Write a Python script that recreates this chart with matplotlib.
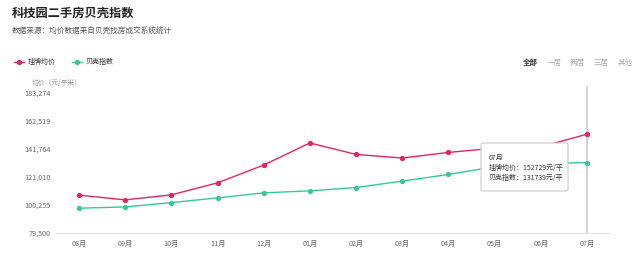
import matplotlib
matplotlib.use("Agg")
import matplotlib.pyplot as plt
from matplotlib.patches import FancyBboxPatch
from matplotlib.lines import Line2D

plt.rcParams['font.family'] = ['Noto Sans CJK SC', 'DejaVu Sans']

months = ["08月", "09月", "10月", "11月", "12月", "01月", "02月", "03月", "04月", "05月", "06月", "07月"]
listing_price = [107550, 104050, 107770, 116700, 129870, 146240, 137750, 135080, 139240, 142400, 143300, 152729]
beike_index = [97880, 98840, 102040, 105540, 109260, 110750, 113200, 117960, 122880, 128600, 130760, 131739]
y_ticks = [79500, 100255, 121010, 141764, 162519, 183274]
series_names = ["挂牌均价", "贝壳指数"]
tabs = ["全部", "一居", "两居", "三居", "其他"]

RED = '#e2265f'
GREEN = '#34c996'
W, H = 640, 263

fig = plt.figure(figsize=(6.4, 2.63), dpi=100)
fig.patch.set_facecolor('white')

def fx(px):
    return px / W

def fy(py):
    return 1 - py / H

ax = fig.add_axes([fx(56), fy(233), fx(610) - fx(56), fy(93) - fy(233)])
x = list(range(len(months)))
ax.plot(x, listing_price, color=RED, lw=1.0, marker='o', ms=2.8, zorder=3)
ax.plot(x, beike_index, color=GREEN, lw=1.0, marker='o', ms=2.8, zorder=3)
ax.set_xlim(-0.5, len(months) - 0.5)
ax.set_ylim(y_ticks[0], y_ticks[-1])
ax.set_yticks(y_ticks)
ax.set_yticklabels([f"{v:,}" for v in y_ticks], fontsize=5.2, color='#666666')
ax.set_xticks(x)
ax.set_xticklabels(months, fontsize=5.2, color='#666666')
ax.tick_params(axis='both', length=0, pad=5)
ax.tick_params(axis='y', pad=4)
for s in ['top', 'right', 'left']:
    ax.spines[s].set_visible(False)
ax.spines['bottom'].set_color('#e6e6e6')
ax.spines['bottom'].set_linewidth(0.8)

# axis pointer line at last month
ax.axvline(len(months) - 1, ymin=0, ymax=1.04, color='#cfcfcf', lw=1.3, zorder=1, clip_on=False)

# title & subtitle
fig.text(fx(12), fy(13), "科技园二手房贝壳指数", fontsize=8.8, fontweight='bold', color='#222222', va='center', ha='left')
fig.text(fx(12), fy(32), "数据来源：均价数据来自贝壳找房成交系统统计", fontsize=5.5, color='#555555', va='center', ha='left')

# legend
for (x0, color, name) in [(14, RED, series_names[0]), (72, GREEN, series_names[1])]:
    fig.add_artist(Line2D([fx(x0), fx(x0 + 10)], [fy(62), fy(62)], color=color, lw=1.0,
                          marker=None, transform=fig.transFigure))
    fig.add_artist(Line2D([fx(x0 + 5)], [fy(62)], color=color, marker='o', ms=2.8,
                          transform=fig.transFigure))
    fig.text(fx(x0 + 14), fy(62), name, fontsize=5.0, color='#333333', va='center', ha='left')

# tabs
tab_x = [523, 547, 570, 594, 618]
for i, (t, tx) in enumerate(zip(tabs, tab_x)):
    fig.text(fx(tx), fy(62.5), t, fontsize=5.4, color='#333333' if i == 0 else '#aaaaaa',
             fontweight='bold' if i == 0 else 'normal', va='center', ha='left')

# y axis name
fig.text(fx(32), fy(83), "均价（元/平米）", fontsize=4.9, color='#999999', va='center', ha='left')

# tooltip
box = FancyBboxPatch((fx(481), fy(191)), fx(568) - fx(481), fy(143) - fy(191),
                     boxstyle="round,pad=0,rounding_size=0.004", transform=fig.transFigure,
                     facecolor='white', edgecolor='#cccccc', lw=0.8, zorder=10)
fig.add_artist(box)
fig.text(fx(489), fy(157.5), months[-1], fontsize=5.0, color='#333333', va='center', ha='left', zorder=11)
fig.text(fx(489), fy(167.5), f"{series_names[0]}：{listing_price[-1]}元/平", fontsize=5.0, color='#333333',
         va='center', ha='left', zorder=11)
fig.text(fx(489), fy(177.5), f"{series_names[1]}：{beike_index[-1]}元/平", fontsize=5.0, color='#333333',
         va='center', ha='left', zorder=11)

fig.savefig("out.png", dpi=100, facecolor='white')
